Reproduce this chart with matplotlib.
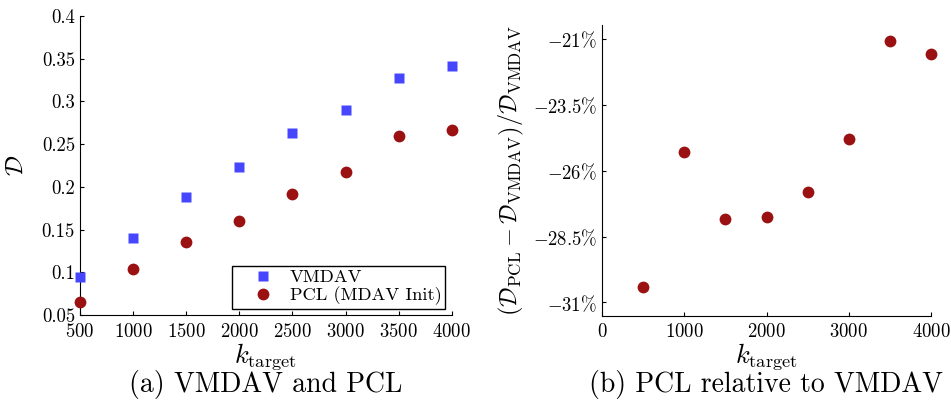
import matplotlib
matplotlib.use("Agg")
import matplotlib.pyplot as plt
from matplotlib.ticker import FuncFormatter

plt.rcParams['font.family'] = 'serif'
plt.rcParams['font.serif'] = ['cmr10']
plt.rcParams['mathtext.fontset'] = 'cm'
plt.rcParams['axes.formatter.use_mathtext'] = True

# data
k_target = [500, 1000, 1500, 2000, 2500, 3000, 3500, 4000]
d_vmdav = [0.095, 0.140, 0.188, 0.223, 0.263, 0.290, 0.328, 0.341]
d_pcl = [0.065, 0.104, 0.135, 0.160, 0.192, 0.217, 0.259, 0.267]
rel_pct = [-30.4, -25.3, -27.85, -27.75, -26.8, -24.8, -21.1, -21.6]

blue = '#4646ff'
red = '#9b1111'

fig = plt.figure(figsize=(9.51, 4.17), dpi=100)
ax1 = fig.add_axes([0.0841, 0.2446, 0.391, 0.717])
ax2 = fig.add_axes([0.633, 0.243, 0.346, 0.696])

for ax in (ax1, ax2):
    ax.spines['top'].set_visible(False)
    ax.spines['right'].set_visible(False)
    ax.tick_params(direction='in', length=3, labelsize=13.5, top=False, right=False)
    ax.tick_params(axis='x', pad=5.5)

# (a)
ax1.plot(k_target, d_vmdav, 's', color=blue, ms=7, mec='none', label='VMDAV', clip_on=False, zorder=3)
ax1.plot(k_target, d_pcl, 'o', color=red, ms=8.5, mec='none', label='PCL (MDAV Init)', clip_on=False, zorder=3)
ax1.set_xlim(500, 4000)
ax1.set_ylim(0.05, 0.4)
ax1.set_xticks(range(500, 4001, 500))
ax1.set_yticks([0.05, 0.1, 0.15, 0.2, 0.25, 0.3, 0.35, 0.4])
ax1.yaxis.set_major_formatter(FuncFormatter(lambda v, p: f"{v:g}"))
ax1.set_xlabel(r'$k_{\mathrm{target}}$', fontsize=19, labelpad=0)
ax1.set_ylabel(r'$\mathcal{D}$', fontsize=18, labelpad=10)
leg = ax1.legend(loc='lower right', fontsize=13.3, frameon=True, fancybox=False,
                 edgecolor='black', framealpha=1, borderpad=0.2, handlelength=3.0,
                 handletextpad=-0.05, labelspacing=0.05, borderaxespad=0.35)
leg.get_frame().set_linewidth(1.0)

# (b)
ax2.plot(k_target, rel_pct, 'o', color=red, ms=8.5, mec='none', clip_on=False, zorder=3)
ax2.set_xlim(0, 4000)
ax2.set_ylim(-31.5, -20.5)
ax2.set_xticks([0, 1000, 2000, 3000, 4000])
ax2.set_yticks([-31, -28.5, -26, -23.5, -21])
ax2.yaxis.set_major_formatter(FuncFormatter(lambda v, p: f"${v:g}\\%$"))
ax2.set_xlabel(r'$k_{\mathrm{target}}$', fontsize=19, labelpad=0)
ax2.set_ylabel(r'$(\mathcal{D}_{\mathrm{PCL}}-\mathcal{D}_{\mathrm{VMDAV}})/\mathcal{D}_{\mathrm{VMDAV}}$',
               fontsize=17.5, labelpad=5)

fig.text(0.279, 0.077, '(a) VMDAV and PCL', ha='center', va='center', fontsize=20)
fig.text(0.805, 0.077, '(b) PCL relative to VMDAV', ha='center', va='center', fontsize=20)

fig.savefig('out.png', dpi=100)
